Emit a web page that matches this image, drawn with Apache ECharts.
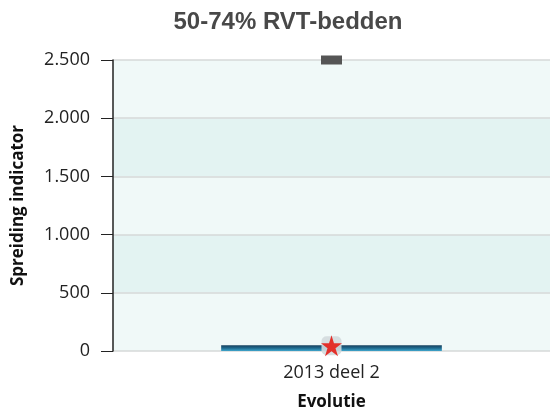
<!DOCTYPE html>
<html>
<head>
<meta charset="utf-8">
<script src="https://cdn.jsdelivr.net/npm/echarts@6/dist/echarts.min.js"></script>
<style>
  html, body { margin: 0; padding: 0; background: #ffffff; }
  #chart { width: 550px; height: 416px; }
</style>
</head>
<body>
<div id="chart"></div>
<script>
// Spreiding per periode
var categories = ['2013 deel 2'];
var spreadValues = [50];      // blauwe balk
var indicatorValues = [45];   // ster
var maxValues = [2500];       // grijze markering bovenaan
var yTicks = [0, 500, 1000, 1500, 2000, 2500];

var starPath = 'path://M0,-10 L2.23,-3.07 L9.51,-3.09 L3.61,1.17 L5.88,8.09 L0,3.8 L-5.88,8.09 L-3.61,1.17 L-9.51,-3.09 L-2.23,-3.07 Z';

function fmt(v) {
  return String(v).replace(/\B(?=(\d{3})+(?!\d))/g, '.');
}

var chart = echarts.init(document.getElementById('chart'), null, { renderer: 'canvas' });
chart.setOption({
  animation: false,
  backgroundColor: '#ffffff',
  title: {
    text: '50-74% RVT-bedden',
    left: 283,
    top: 5,
    textAlign: 'center',
    textStyle: { fontFamily: 'Liberation Sans', fontWeight: 'bold', fontSize: 24, color: '#484848' }
  },
  grid: { left: 113, right: 0, top: 60, bottom: 65, containLabel: false },
  xAxis: {
    type: 'category',
    data: categories,
    name: 'Evolutie',
    nameLocation: 'middle',
    nameGap: 43,
    nameTextStyle: { fontFamily: 'Open Sans', fontWeight: 'bold', fontSize: 17, color: '#111' },
    axisLine: { show: false },
    axisTick: { show: false },
    axisLabel: { fontFamily: 'Open Sans', fontSize: 18, color: '#222', margin: 13 },
    splitLine: { show: false }
  },
  yAxis: {
    type: 'value',
    min: yTicks[0],
    max: yTicks[yTicks.length - 1],
    interval: 500,
    name: 'Spreiding indicator',
    nameLocation: 'middle',
    nameGap: 86,
    nameTextStyle: { fontFamily: 'Open Sans', fontWeight: 'bold', fontSize: 17, color: '#111' },
    axisLine: { show: true, lineStyle: { color: '#222', width: 1.5 } },
    axisTick: { show: true, length: 12, lineStyle: { color: '#222', width: 1 } },
    axisLabel: { fontFamily: 'Open Sans', fontSize: 18, color: '#222', margin: 23, formatter: fmt },
    splitLine: { show: true, lineStyle: { color: '#d6d9d9', width: 1.5 } },
    splitArea: { show: true, areaStyle: { color: ['#f0f9f8', '#e3f3f2'] } }
  },
  series: [
    {
      type: 'bar',
      data: spreadValues,
      barWidth: '50.5%',
      itemStyle: {
        color: new echarts.graphic.LinearGradient(0, 0, 0, 1, [
          { offset: 0, color: '#163f5c' },
          { offset: 0.5, color: '#1f6a8e' },
          { offset: 1, color: '#3fa6cc' }
        ])
      },
      z: 2
    },
    {
      type: 'scatter',
      data: maxValues,
      symbol: 'rect',
      symbolSize: [21, 9],
      itemStyle: { color: '#555555', opacity: 1 },
      z: 3
    },
    {
      type: 'scatter',
      data: indicatorValues,
      symbol: 'roundRect',
      symbolSize: [20, 19],
      itemStyle: { color: '#d3dadd', opacity: 0.9 },
      z: 4
    },
    {
      type: 'scatter',
      data: indicatorValues,
      symbol: starPath,
      symbolSize: 21,
      itemStyle: { color: '#e3302a', opacity: 1 },
      z: 5
    }
  ]
});
</script>
</body>
</html>
